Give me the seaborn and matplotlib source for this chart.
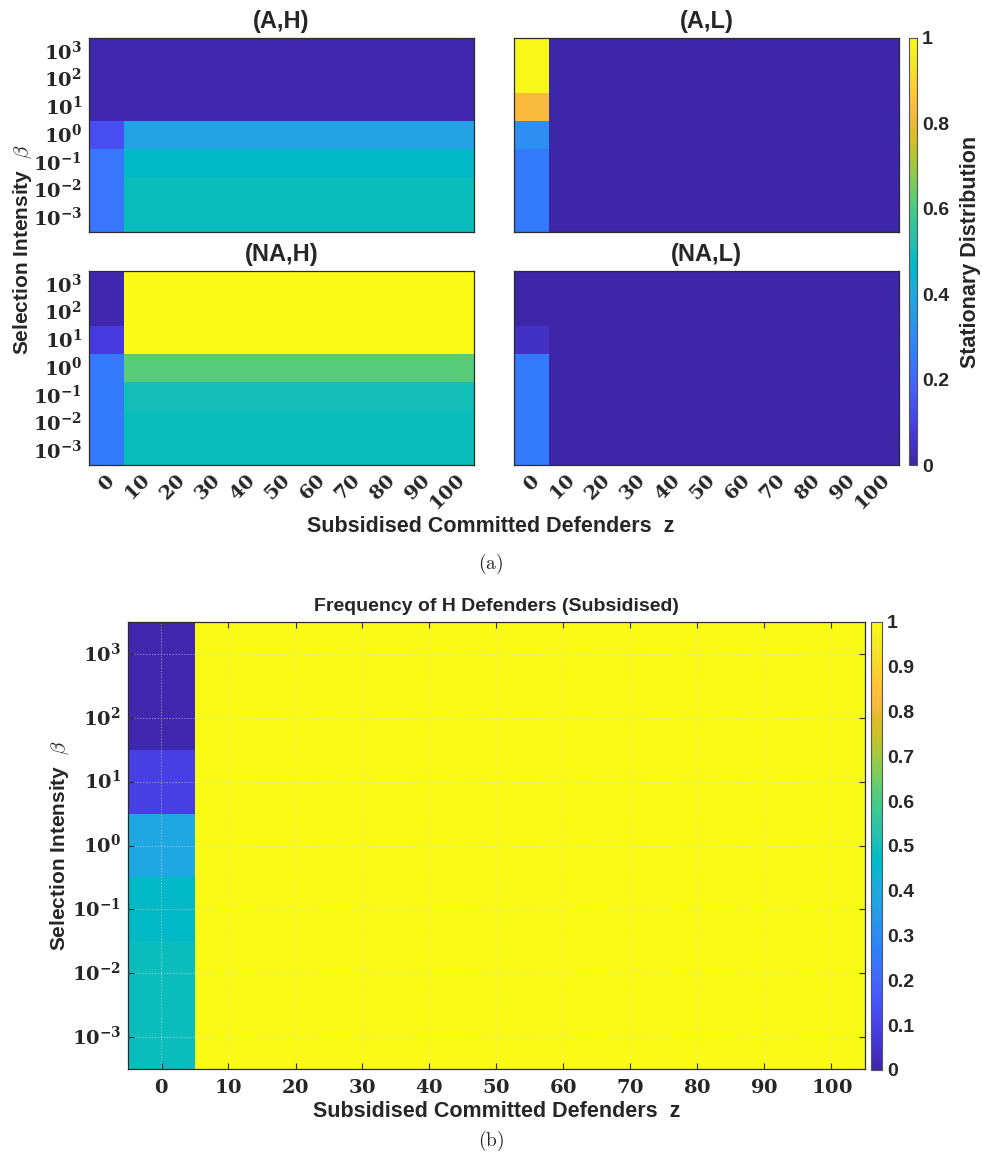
import numpy as np
import matplotlib
matplotlib.use("Agg")
import matplotlib.pyplot as plt
import seaborn as sns
from matplotlib.colors import LinearSegmentedColormap

sns.set_style("white")
plt.rcParams['font.family'] = ['Liberation Sans', 'DejaVu Sans']
plt.rcParams['mathtext.fontset'] = 'dejavuserif'

# selection intensity rows (top -> bottom) and subsidised defenders columns
beta_exp = [3, 2, 1, 0, -1, -2, -3]
z_vals = [0, 10, 20, 30, 40, 50, 60, 70, 80, 90, 100]

# stationary distribution, (A,H)
dist_AH = [
    [0.01, 0.01, 0.01, 0.01, 0.01, 0.01, 0.01, 0.01, 0.01, 0.01, 0.01],
    [0.01, 0.01, 0.01, 0.01, 0.01, 0.01, 0.01, 0.01, 0.01, 0.01, 0.01],
    [0.01, 0.01, 0.01, 0.01, 0.01, 0.01, 0.01, 0.01, 0.01, 0.01, 0.01],
    [0.13, 0.37, 0.37, 0.37, 0.37, 0.37, 0.37, 0.37, 0.37, 0.37, 0.37],
    [0.24, 0.47, 0.47, 0.47, 0.47, 0.47, 0.47, 0.47, 0.47, 0.47, 0.47],
    [0.24, 0.49, 0.49, 0.49, 0.49, 0.49, 0.49, 0.49, 0.49, 0.49, 0.49],
    [0.24, 0.49, 0.49, 0.49, 0.49, 0.49, 0.49, 0.49, 0.49, 0.49, 0.49],
]
# (A,L)
dist_AL = [
    [0.99, 0, 0, 0, 0, 0, 0, 0, 0, 0, 0],
    [0.99, 0, 0, 0, 0, 0, 0, 0, 0, 0, 0],
    [0.83, 0, 0, 0, 0, 0, 0, 0, 0, 0, 0],
    [0.31, 0, 0, 0, 0, 0, 0, 0, 0, 0, 0],
    [0.25, 0, 0, 0, 0, 0, 0, 0, 0, 0, 0],
    [0.25, 0, 0, 0, 0, 0, 0, 0, 0, 0, 0],
    [0.25, 0, 0, 0, 0, 0, 0, 0, 0, 0, 0],
]
# (NA,H)
dist_NAH = [
    [0.01, 1.0, 1.0, 1.0, 1.0, 1.0, 1.0, 1.0, 1.0, 1.0, 1.0],
    [0.01, 1.0, 1.0, 1.0, 1.0, 1.0, 1.0, 1.0, 1.0, 1.0, 1.0],
    [0.08, 1.0, 1.0, 1.0, 1.0, 1.0, 1.0, 1.0, 1.0, 1.0, 1.0],
    [0.25, 0.62, 0.62, 0.62, 0.62, 0.62, 0.62, 0.62, 0.62, 0.62, 0.62],
    [0.25, 0.50, 0.50, 0.50, 0.50, 0.50, 0.50, 0.50, 0.50, 0.50, 0.50],
    [0.25, 0.49, 0.49, 0.49, 0.49, 0.49, 0.49, 0.49, 0.49, 0.49, 0.49],
    [0.25, 0.49, 0.49, 0.49, 0.49, 0.49, 0.49, 0.49, 0.49, 0.49, 0.49],
]
# (NA,L)
dist_NAL = [
    [0.00, 0, 0, 0, 0, 0, 0, 0, 0, 0, 0],
    [0.00, 0, 0, 0, 0, 0, 0, 0, 0, 0, 0],
    [0.04, 0, 0, 0, 0, 0, 0, 0, 0, 0, 0],
    [0.25, 0, 0, 0, 0, 0, 0, 0, 0, 0, 0],
    [0.25, 0, 0, 0, 0, 0, 0, 0, 0, 0, 0],
    [0.25, 0, 0, 0, 0, 0, 0, 0, 0, 0, 0],
    [0.25, 0, 0, 0, 0, 0, 0, 0, 0, 0, 0],
]
# frequency of H defenders
freq_H = [
    [0.01, 1, 1, 1, 1, 1, 1, 1, 1, 1, 1],
    [0.01, 1, 1, 1, 1, 1, 1, 1, 1, 1, 1],
    [0.09, 1, 1, 1, 1, 1, 1, 1, 1, 1, 1],
    [0.39, 1, 1, 1, 1, 1, 1, 1, 1, 1, 1],
    [0.47, 1, 1, 1, 1, 1, 1, 1, 1, 1, 1],
    [0.49, 1, 1, 1, 1, 1, 1, 1, 1, 1, 1],
    [0.49, 1, 1, 1, 1, 1, 1, 1, 1, 1, 1],
]

panel_titles = ["(A,H)", "(A,L)", "(NA,H)", "(NA,L)"]

# matlab parula colormap
parula_pts = [
    (0.2422, 0.1504, 0.6603), (0.2504, 0.1650, 0.7076), (0.2578, 0.1818, 0.7511), (0.2647, 0.1978, 0.7952),
    (0.2706, 0.2147, 0.8364), (0.2751, 0.2342, 0.8710), (0.2783, 0.2559, 0.8991), (0.2803, 0.2782, 0.9221),
    (0.2813, 0.3006, 0.9414), (0.2810, 0.3228, 0.9579), (0.2795, 0.3447, 0.9717), (0.2760, 0.3667, 0.9829),
    (0.2699, 0.3892, 0.9906), (0.2602, 0.4123, 0.9952), (0.2440, 0.4358, 0.9988), (0.2206, 0.4603, 0.9973),
    (0.1963, 0.4847, 0.9892), (0.1834, 0.5074, 0.9798), (0.1786, 0.5289, 0.9682), (0.1764, 0.5499, 0.9520),
    (0.1687, 0.5703, 0.9359), (0.1540, 0.5902, 0.9218), (0.1460, 0.6091, 0.9079), (0.1380, 0.6276, 0.8973),
    (0.1248, 0.6459, 0.8883), (0.1113, 0.6635, 0.8763), (0.0952, 0.6798, 0.8598), (0.0689, 0.6948, 0.8394),
    (0.0297, 0.7082, 0.8163), (0.0036, 0.7203, 0.7917), (0.0067, 0.7312, 0.7660), (0.0433, 0.7411, 0.7394),
    (0.0964, 0.7500, 0.7120), (0.1408, 0.7584, 0.6842), (0.1717, 0.7670, 0.6554), (0.1938, 0.7758, 0.6251),
    (0.2161, 0.7843, 0.5923), (0.2470, 0.7918, 0.5567), (0.2906, 0.7973, 0.5188), (0.3406, 0.8008, 0.4789),
    (0.3909, 0.8029, 0.4354), (0.4456, 0.8024, 0.3909), (0.5044, 0.7993, 0.3480), (0.5616, 0.7942, 0.3045),
    (0.6174, 0.7876, 0.2612), (0.6720, 0.7793, 0.2227), (0.7242, 0.7698, 0.1910), (0.7738, 0.7598, 0.1646),
    (0.8203, 0.7498, 0.1535), (0.8634, 0.7406, 0.1596), (0.9035, 0.7330, 0.1774), (0.9393, 0.7288, 0.2100),
    (0.9728, 0.7298, 0.2394), (0.9956, 0.7434, 0.2371), (0.9970, 0.7659, 0.2199), (0.9952, 0.7893, 0.2028),
    (0.9892, 0.8136, 0.1885), (0.9786, 0.8386, 0.1766), (0.9676, 0.8639, 0.1643), (0.9610, 0.8890, 0.1537),
    (0.9597, 0.9135, 0.1423), (0.9628, 0.9373, 0.1265), (0.9691, 0.9606, 0.1064), (0.9769, 0.9839, 0.0805),
]
parula = LinearSegmentedColormap.from_list("parula", parula_pts)

ylabels = [r'$\mathbf{10^{%d}}$' % e for e in beta_exp]
xlabels = [r'$\mathbf{%d}$' % z for z in z_vals]
edge = '#2b2b2b'
tick_fs = 14


def style_axes(ax):
    for s in ax.spines.values():
        s.set_visible(True)
        s.set_color(edge)
        s.set_linewidth(0.9)
    ax.tick_params(direction='in', length=4, width=0.8, color=edge,
                   top=True, right=True, bottom=True, left=True,
                   labelsize=tick_fs, pad=5)


fig = plt.figure(figsize=(9.82, 11.6), dpi=100)
W, H = 982.0, 1160.0


def box(x0, y0, x1, y1):
    return [x0 / W, 1 - y1 / H, (x1 - x0) / W, (y1 - y0) / H]


pos = [box(89, 38, 474, 232), box(514, 38, 899, 232),
       box(89, 271, 474, 465), box(514, 271, 899, 465)]
data = [dist_AH, dist_AL, dist_NAH, dist_NAL]

for i in range(4):
    ax = fig.add_axes(pos[i])
    sns.heatmap(np.array(data[i]), ax=ax, cmap=parula, vmin=0, vmax=1, cbar=False,
                xticklabels=xlabels, yticklabels=ylabels)
    style_axes(ax)
    ax.set_title(panel_titles[i], fontsize=17, fontweight='bold', pad=7)
    ax.set_yticklabels(ylabels, rotation=0)
    if i % 2 == 1:
        ax.tick_params(labelleft=False)
    if i < 2:
        ax.tick_params(labelbottom=False)
    else:
        ax.set_xticklabels(xlabels, rotation=45, ha='right', rotation_mode='anchor')
    mesh = ax.collections[0]

cax = fig.add_axes(box(909, 38, 917, 465))
cb = fig.colorbar(mesh, cax=cax)
cb.set_ticks([0, 0.2, 0.4, 0.6, 0.8, 1])
cb.set_ticklabels(['0', '0.2', '0.4', '0.6', '0.8', '1'])
cb.outline.set_edgecolor('#555555')
cb.outline.set_linewidth(0.8)
cax.tick_params(direction='in', length=3, width=0.8, labelsize=14, color=edge)
for t in cax.get_yticklabels():
    t.set_fontweight('bold')
cb.set_label('Stationary Distribution', fontsize=15.5, fontweight='bold', labelpad=8)

fig.text(23 / W, 1 - 250 / H, r'Selection Intensity  $\beta$', rotation=90,
         ha='center', va='center', fontsize=15, fontweight='bold', math_fontfamily='cm')
fig.text(491 / W, 1 - 526 / H, 'Subsidised Committed Defenders  z',
         ha='center', va='center', fontsize=15.5, fontweight='bold')
fig.text(491 / W, 1 - 564 / H, r'$\mathrm{(a)}$', ha='center', va='center', fontsize=14,
         math_fontfamily='cm')

# panel (b)
axb = fig.add_axes(box(128, 622, 865, 1069))
sns.heatmap(np.array(freq_H), ax=axb, cmap=parula, vmin=0, vmax=1, cbar=False,
            xticklabels=xlabels, yticklabels=ylabels)
style_axes(axb)
axb.set_yticklabels(ylabels, rotation=0)
axb.set_xticklabels(xlabels, rotation=0)
axb.tick_params(axis='x', pad=7)
axb.set_axisbelow(False)
axb.grid(True, color='#dddddd', linestyle=':', linewidth=0.8, alpha=0.6)
axb.set_title('Frequency of H Defenders (Subsidised)', fontsize=14, fontweight='bold', pad=8)
axb.set_xlabel('Subsidised Committed Defenders  z', fontsize=15.5, fontweight='bold', labelpad=3)
axb.set_ylabel(r'Selection Intensity  $\beta$', fontsize=15, fontweight='bold',
               math_fontfamily='cm')
axb.yaxis.set_label_coords((71 - 128) / 737.0, 0.5)

caxb = fig.add_axes(box(871, 622, 882, 1070))
cbb = fig.colorbar(axb.collections[0], cax=caxb)
ticks_b = [0, 0.1, 0.2, 0.3, 0.4, 0.5, 0.6, 0.7, 0.8, 0.9, 1]
cbb.set_ticks(ticks_b)
cbb.set_ticklabels(['0', '0.1', '0.2', '0.3', '0.4', '0.5', '0.6', '0.7', '0.8', '0.9', '1'])
cbb.outline.set_edgecolor('#555555')
cbb.outline.set_linewidth(0.8)
caxb.tick_params(direction='in', length=3, width=0.8, labelsize=14, color=edge)
for t in caxb.get_yticklabels():
    t.set_fontweight('bold')

fig.text(491 / W, 1 - 1141 / H, r'$\mathrm{(b)}$', ha='center', va='center', fontsize=14,
         math_fontfamily='cm')

fig.savefig('out.png', dpi=100)
